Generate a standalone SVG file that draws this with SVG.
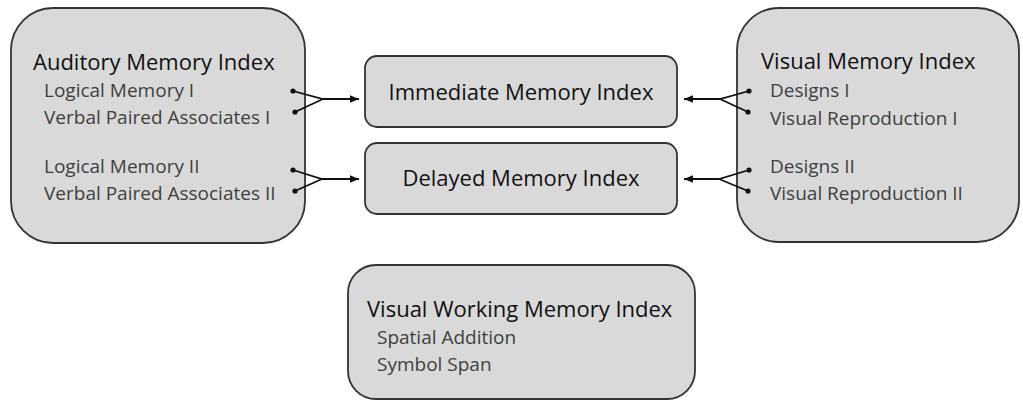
<svg xmlns="http://www.w3.org/2000/svg" width="1023" height="401" viewBox="0 0 1023 401">
<style>
.box{fill:#d9d9d9;stroke:#333;stroke-width:1.8}
.title{font-family:"Open Sans","Noto Sans",sans-serif;font-size:22px;fill:#111}
.center{font-family:"Open Sans","Noto Sans",sans-serif;font-size:22px;fill:#111;text-anchor:middle}
.sub{font-family:"Open Sans","Noto Sans",sans-serif;font-size:19px;fill:#404040}
.conn{fill:none;stroke:#111;stroke-width:1.8}
.dot{fill:#111}
</style>
<defs>
<marker id="arrow" markerUnits="userSpaceOnUse" markerWidth="10" markerHeight="10" refX="9" refY="5" orient="auto">
<path d="M0,1.2 L9,5 L0,8.8 Z" fill="#111"/>
</marker>
</defs>
<rect width="1023" height="401" fill="#fff"/>
<g id="auditory">
<rect class="box" x="11" y="8" width="294" height="235" rx="42"/>
<text class="title" x="33" y="70">Auditory Memory Index</text>
<text class="sub" x="44" y="97">Logical Memory I</text>
<text class="sub" x="44" y="124">Verbal Paired Associates I</text>
<text class="sub" x="44" y="173">Logical Memory II</text>
<text class="sub" x="44" y="200">Verbal Paired Associates II</text>
</g>
<g id="immediate">
<rect class="box" x="365" y="56" width="312" height="71" rx="12"/>
<text class="center" x="521" y="100">Immediate Memory Index</text>
</g>
<g id="delayed">
<rect class="box" x="365" y="143" width="312" height="71" rx="12"/>
<text class="center" x="521" y="186">Delayed Memory Index</text>
</g>
<g id="visual">
<rect class="box" x="737" y="8" width="282" height="234" rx="42"/>
<text class="title" x="761" y="69">Visual Memory Index</text>
<text class="sub" x="770" y="97">Designs I</text>
<text class="sub" x="770" y="125">Visual Reproduction I</text>
<text class="sub" x="770" y="173">Designs II</text>
<text class="sub" x="770" y="200">Visual Reproduction II</text>
</g>
<g id="working">
<rect class="box" x="348" y="265" width="347" height="134" rx="28"/>
<text class="title" x="367" y="317">Visual Working Memory Index</text>
<text class="sub" x="377" y="344">Spatial Addition</text>
<text class="sub" x="377" y="371">Symbol Span</text>
</g>
<g id="connectors">
<path class="conn" d="M293,91 L323,99 L359,99" marker-end="url(#arrow)"/>
<path class="conn" d="M295,112 L323,99"/>
<circle class="dot" cx="293" cy="91" r="2.6"/>
<circle class="dot" cx="295" cy="112" r="2.6"/>
<path class="conn" d="M293,170 L322,179 L359,179" marker-end="url(#arrow)"/>
<path class="conn" d="M295,191 L322,179"/>
<circle class="dot" cx="293" cy="170" r="2.6"/>
<circle class="dot" cx="295" cy="191" r="2.6"/>
<path class="conn" d="M749,91 L720,99 L684,99" marker-end="url(#arrow)"/>
<path class="conn" d="M748,112 L720,99"/>
<circle class="dot" cx="749" cy="91" r="2.6"/>
<circle class="dot" cx="748" cy="112" r="2.6"/>
<path class="conn" d="M749,170 L719,179 L684,179" marker-end="url(#arrow)"/>
<path class="conn" d="M748,191 L719,179"/>
<circle class="dot" cx="749" cy="170" r="2.6"/>
<circle class="dot" cx="748" cy="191" r="2.6"/>
</g>
</svg>
